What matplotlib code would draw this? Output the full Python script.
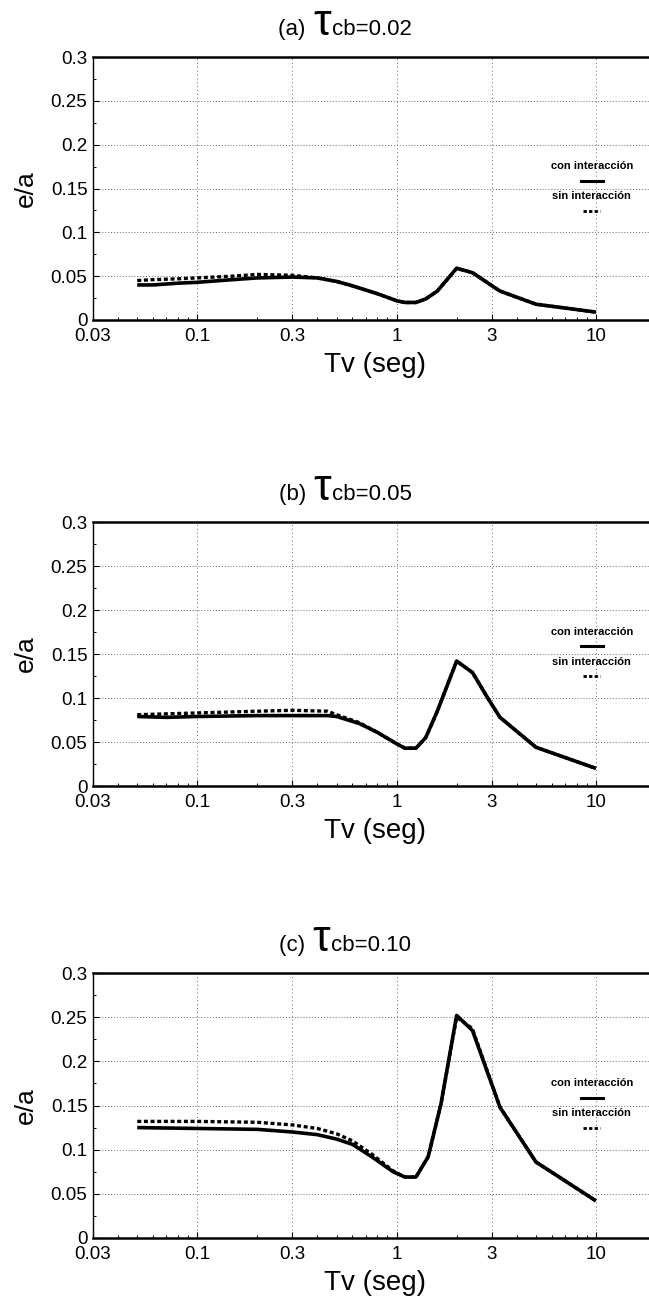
"""
e/a against Tv for three values of tau_cb, with and without interaction.
"""

import matplotlib

matplotlib.use("Agg")
import matplotlib.pyplot as plt
from matplotlib.ticker import FixedLocator, MultipleLocator, NullFormatter

plt.rcParams["font.family"] = ["Liberation Sans", "DejaVu Sans"]

# Panel (a) tau_cb = 0.02
t_a = [0.05, 0.06, 0.08, 0.1, 0.15, 0.2, 0.3, 0.4, 0.5, 0.6, 0.8, 1.0, 1.1,
       1.25, 1.4, 1.6, 2.0, 2.4, 3.3, 5.0, 10.0]
con_a = [0.040, 0.040, 0.042, 0.043, 0.046, 0.048, 0.049, 0.048, 0.044, 0.039,
         0.030, 0.022, 0.020, 0.020, 0.024, 0.033, 0.059, 0.054, 0.033, 0.018, 0.009]
sin_a = [0.045, 0.046, 0.047, 0.048, 0.050, 0.052, 0.051, 0.048, 0.044, 0.039,
         0.030, 0.022, 0.020, 0.020, 0.024, 0.033, 0.059, 0.054, 0.033, 0.018, 0.009]

# Panel (b) tau_cb = 0.05
t_b = [0.05, 0.07, 0.1, 0.2, 0.3, 0.45, 0.5, 0.65, 0.8, 1.0, 1.1, 1.25, 1.4,
       1.6, 2.0, 2.4, 2.9, 3.3, 5.0, 10.0]
con_b = [0.079, 0.078, 0.079, 0.080, 0.080, 0.080, 0.079, 0.071, 0.061, 0.048,
         0.043, 0.043, 0.055, 0.085, 0.142, 0.129, 0.098, 0.078, 0.044, 0.020]
sin_b = [0.081, 0.082, 0.083, 0.085, 0.086, 0.085, 0.081, 0.072, 0.061, 0.048,
         0.043, 0.043, 0.055, 0.085, 0.142, 0.129, 0.098, 0.078, 0.044, 0.020]

# Panel (c) tau_cb = 0.10
t_c = [0.05, 0.1, 0.2, 0.3, 0.4, 0.5, 0.6, 0.75, 0.96, 1.1, 1.25, 1.44, 1.67,
       2.0, 2.4, 3.3, 5.0, 10.0]
con_c = [0.125, 0.124, 0.123, 0.120, 0.117, 0.112, 0.106, 0.092, 0.075, 0.069,
         0.069, 0.092, 0.152, 0.252, 0.235, 0.148, 0.086, 0.042]
sin_c = [0.132, 0.132, 0.131, 0.128, 0.124, 0.118, 0.110, 0.095, 0.076, 0.069,
         0.069, 0.092, 0.152, 0.250, 0.237, 0.148, 0.086, 0.042]

panel_letters = ["(a)", "(b)", "(c)"]
tau_values = ["0.02", "0.05", "0.10"]
x_ticks = [0.03, 0.1, 0.3, 1, 3, 10]
x_tick_labels = ["0.03", "0.1", "0.3", "1", "3", "10"]
y_ticks = [0, 0.05, 0.1, 0.15, 0.2, 0.25, 0.3]
y_tick_labels = ["0", "0.05", "0.1", "0.15", "0.2", "0.25", "0.3"]
legend_labels = ["con interacción", "sin interacción"]

panels = [(t_a, con_a, sin_a), (t_b, con_b, sin_b), (t_c, con_c, sin_c)]

W, H = 649, 1300
fig = plt.figure(figsize=(W / 100, H / 100), dpi=100)
renderer = fig.canvas.get_renderer()

# Axes boxes in pixels: (top, bottom) for each panel.
left_px, right_px = 93, 656
boxes = [(57, 320), (522, 786), (973, 1238)]

for i, (t, con, sin) in enumerate(panels):
    top, bottom = boxes[i]
    ax = fig.add_axes([left_px / W, 1 - bottom / H,
                       (right_px - left_px) / W, (bottom - top) / H])
    ax.set_xscale("log")
    ax.set_xlim(0.03, 20)
    ax.set_ylim(0, 0.3)

    # Dotted grid.
    for yv in y_ticks[1:-1]:
        ax.axhline(yv, color="#666666", lw=0.7, ls=(0, (1, 2)), zorder=0)
    for xv in x_ticks[1:]:
        ax.axvline(xv, color="#666666", lw=0.7, ls=(0, (1, 3)), zorder=0)

    ax.plot(t, con, color="black", lw=2.6, solid_capstyle="butt", zorder=3)
    ax.plot(t, sin, color="black", lw=2.4, ls=(0, (1.2, 0.8)), zorder=4)

    ax.xaxis.set_major_locator(FixedLocator(x_ticks))
    ax.set_xticklabels(x_tick_labels)
    ax.xaxis.set_minor_formatter(NullFormatter())
    ax.set_yticks(y_ticks)
    ax.set_yticklabels(y_tick_labels)
    ax.yaxis.set_minor_locator(MultipleLocator(0.025))
    ax.tick_params(which="both", direction="in", labelsize=13.5, pad=4)
    ax.tick_params(which="major", length=4, width=0.8)
    ax.tick_params(which="minor", length=2.5, width=0.7)
    ax.tick_params(axis="x", pad=6)

    ax.spines["top"].set_linewidth(1.8)
    ax.spines["bottom"].set_linewidth(1.8)
    ax.spines["left"].set_linewidth(1.0)
    ax.spines["right"].set_visible(False)

    ax.set_xlabel("Tv (seg)", fontsize=20, labelpad=5)
    ax.set_ylabel("e/a", fontsize=19, labelpad=9)

    # Legend drawn as stacked text, as in the original.
    lx = 0.886
    ax.text(lx, 0.585, legend_labels[0], transform=ax.transAxes, ha="center",
            va="center", fontsize=8, fontweight="bold")
    ax.plot([lx - 0.019, lx + 0.019], [0.53, 0.53], transform=ax.transAxes,
            color="black", lw=2.2)
    ax.text(lx, 0.47, legend_labels[1], transform=ax.transAxes, ha="center",
            va="center", fontsize=8, fontweight="bold")
    ax.plot([lx - 0.015, lx + 0.015], [0.415, 0.415], transform=ax.transAxes,
            color="black", lw=2.0, ls=(0, (1.2, 0.8)))

    # Title: "(x)" + large tau + "cb=value" on one baseline, centred near x=345 px.
    base_y = 1 - (top - 22) / H
    pieces = [
        fig.text(0, base_y, panel_letters[i] + " ", fontsize=16, va="baseline"),
        fig.text(0, base_y, "τ", fontsize=32, va="baseline"),
        fig.text(0, base_y, "cb=" + tau_values[i], fontsize=16, va="baseline"),
    ]
    widths = [p.get_window_extent(renderer).width for p in pieces]
    x = 345 - (sum(widths) + 2) / 2
    for p, w in zip(pieces, widths):
        p.set_x(x / W)
        x += w + 1

fig.savefig("out.png", dpi=100)
